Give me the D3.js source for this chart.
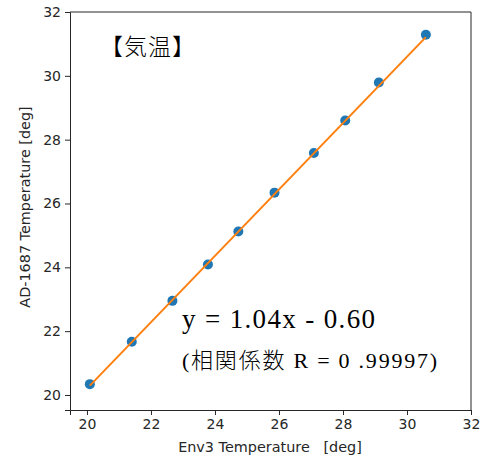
<!DOCTYPE html>
<html>
<head>
<meta charset="utf-8">
<script src="https://cdn.jsdelivr.net/npm/d3@7"></script>
<style>
  body { margin: 0; background: #fff; }
  .tick text { font-family: "DejaVu Sans", sans-serif; font-size: 14px; fill: #262626; }
  .domain, .tick line { stroke: #262626; }
</style>
</head>
<body>
<div id="chart"></div>
<script>
// readings
const envTemp = [20.09, 21.4, 22.67, 23.78, 24.73, 25.86, 27.09, 28.07, 29.12, 30.59];
const adTemp = [20.34, 21.67, 22.95, 24.09, 25.12, 26.34, 27.58, 28.6, 29.79, 31.29];
const fitSlope = 1.04;
const fitIntercept = -0.60;
const tickValues = [20, 22, 24, 26, 28, 30, 32];

const data = envTemp.map((x, i) => ({ x: x, y: adTemp[i] }));

const W = 481, H = 459;
const margin = { top: 12, right: 10, bottom: 49, left: 70 };
const width = W - margin.left - margin.right;
const height = H - margin.top - margin.bottom;

const svg = d3.select("#chart")
  .append("svg")
  .attr("width", W)
  .attr("height", H)
  .append("g")
  .attr("transform", `translate(${margin.left},${margin.top})`);

const xScale = d3.scaleLinear().domain([19.47, 32]).range([0, width]);
const yScale = d3.scaleLinear().domain([19.53, 32]).range([height, 0]);

// axes
svg.append("g")
  .attr("transform", `translate(0,${height})`)
  .call(d3.axisBottom(xScale).tickValues(tickValues).tickSize(5).tickPadding(4).tickFormat(d3.format("d")));

svg.append("g")
  .call(d3.axisLeft(yScale).tickValues(tickValues).tickSize(5).tickPadding(4).tickFormat(d3.format("d")));

// frame on top/right
svg.append("line").attr("x1", 0).attr("x2", width).attr("y1", 0).attr("y2", 0).attr("stroke", "#262626");
svg.append("line").attr("x1", width).attr("x2", width).attr("y1", 0).attr("y2", height).attr("stroke", "#262626");

// points
svg.selectAll(".dot")
  .data(data)
  .enter()
  .append("circle")
  .attr("class", "dot")
  .attr("cx", d => xScale(d.x))
  .attr("cy", d => yScale(d.y))
  .attr("r", 5)
  .attr("fill", "#1f77b4");

// fitted line
const xMin = d3.min(envTemp), xMax = d3.max(envTemp);
svg.append("line")
  .attr("x1", xScale(xMin))
  .attr("y1", yScale(fitSlope * xMin + fitIntercept))
  .attr("x2", xScale(xMax))
  .attr("y2", yScale(fitSlope * xMax + fitIntercept))
  .attr("stroke", "#ff7f0e")
  .attr("stroke-width", 2);

// axis labels
svg.append("text")
  .attr("x", 270 - margin.left)
  .attr("y", 452 - margin.top)
  .attr("text-anchor", "middle")
  .style("font-family", "DejaVu Sans, sans-serif")
  .style("font-size", "14.4px")
  .attr("fill", "#262626")
  .attr("xml:space", "preserve")
  .text("Env3 Temperature   [deg]");

svg.append("text")
  .attr("transform", `translate(${30 - margin.left},${207 - margin.top}) rotate(-90)`)
  .attr("text-anchor", "middle")
  .style("font-family", "DejaVu Sans, sans-serif")
  .style("font-size", "14.4px")
  .attr("fill", "#262626")
  .text("AD-1687 Temperature [deg]");

// annotations
svg.append("text")
  .attr("x", 100 - margin.left)
  .attr("y", 55 - margin.top)
  .style("font-family", "Noto Sans CJK JP, sans-serif")
  .style("font-weight", "300")
  .style("font-size", "23px")
  .style("letter-spacing", "1px")
  .attr("fill", "#000")
  .text("【気温】");

svg.append("text")
  .attr("x", 182 - margin.left)
  .attr("y", 328 - margin.top)
  .attr("textLength", 193)
  .attr("lengthAdjust", "spacing")
  .style("font-family", "Liberation Serif, serif")
  .style("font-size", "27px")
  .attr("fill", "#000")
  .text("y = 1.04x - 0.60");

svg.append("text")
  .attr("x", 182 - margin.left)
  .attr("y", 368 - margin.top)
  .attr("textLength", 255)
  .attr("lengthAdjust", "spacing")
  .style("font-family", "Liberation Serif, Noto Sans CJK JP, serif")
  .style("font-weight", "300")
  .style("font-size", "22px")
  .attr("fill", "#000")
  .text("(相関係数 R = 0 .99997)");
</script>
</body>
</html>
